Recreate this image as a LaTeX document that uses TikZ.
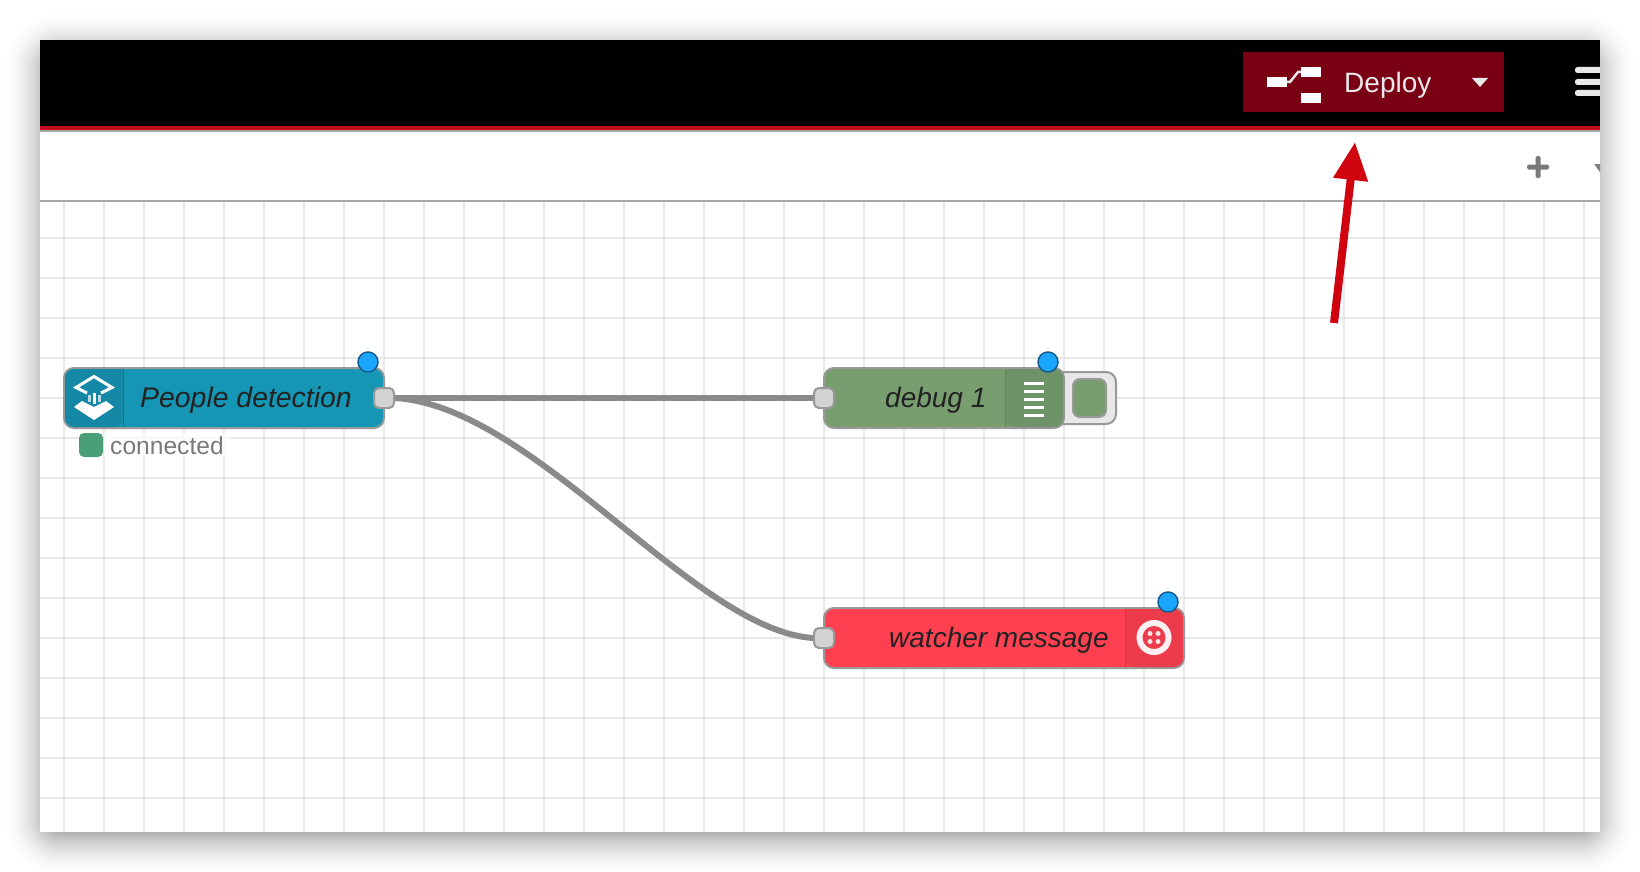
\documentclass[tikz,border=0pt]{standalone}
\usepackage{fontspec}
\setmainfont{Liberation Sans}
\usetikzlibrary{arrows.meta}
\definecolor{peopleBlue}{HTML}{1596B5}
\definecolor{peopleDark}{HTML}{1488A5}
\definecolor{debugGreen}{HTML}{789E70}
\definecolor{debugDark}{HTML}{6F9368}
\definecolor{watcherRed}{HTML}{FF4050}
\definecolor{watcherDark}{HTML}{EC3C4C}
\definecolor{deployRed}{HTML}{7A0014}
\definecolor{barRed}{HTML}{C90A1A}
\definecolor{arrowRed}{HTML}{D0040F}
\definecolor{gridGray}{HTML}{E8E8E8}
\definecolor{edgeGray}{HTML}{A8A8A8}
\definecolor{wireGray}{HTML}{8A8A8A}
\definecolor{boxGray}{HTML}{999999}
\definecolor{textDark}{HTML}{222222}
\definecolor{menuLight}{HTML}{E8E8E8}
\definecolor{dotBlue}{HTML}{1AA5FF}
\definecolor{dotEdge}{HTML}{175A8C}
\definecolor{statusGreen}{HTML}{4A9E78}
\begin{document}
\begin{tikzpicture}[
            x = 1pt, y = -1pt,
            gridline/.style={gridGray, line width = 2pt},
            nodebox/.style={draw=boxGray, line width = 2pt, rounded corners = 10pt, inner sep = 0pt},
            port/.style={draw=boxGray, fill=gray!35, line width = 2pt, rounded corners = 5pt, minimum size = 20pt, inner sep = 0pt},
            changed/.style={circle, draw=dotEdge, fill=dotBlue, line width = 1.5pt, minimum size = 20pt, inner sep = 0pt},
            title/.style={text=textDark, font=\fontsize{28}{30}\selectfont\itshape, anchor=base west, inner sep = 0pt},
            wire/.style={wireGray, line width = 6pt},
            whiteline/.style={white, line width = 3pt},
            ]
        
        \useasboundingbox (0, 0) rectangle (1640, 872);
        \fill[white] (0, 0) rectangle (1640, 872);
        \foreach \k in {1,...,80} {
            \pgfmathsetmacro{\spread}{48*(1-sqrt(\k/80))-8}
            \fill[black, opacity=.004, rounded corners=\spread+20] (40-\spread, 48-\spread) rectangle (1600+\spread, 840+\spread);
        }
        
        \fill[white] (40, 40) rectangle (1600, 832);
        \begin{scope}
            \clip (40, 40) rectangle (1600, 832);
            \foreach \x in {64,104,...,1584} \draw[gridline] (\x, 202) -- (\x, 832);
            \foreach \y in {238,278,...,798} \draw[gridline] (40, \y) -- (1600, \y);
            \fill[black] (40, 40) rectangle (1600, 126);
            \fill[barRed] (40, 126) rectangle (1600, 130);
            \fill[edgeGray] (40, 130) rectangle (1600, 132);
            \fill[edgeGray] (40, 200) rectangle (1600, 202);
            
            \fill[menuLight, rounded corners=2.5pt] (1575, 67) rectangle (1610, 73);
            \fill[menuLight, rounded corners=2.5pt] (1575, 79) rectangle (1610, 85);
            \fill[menuLight, rounded corners=2.5pt] (1575, 90) rectangle (1610, 96);
            \fill[gray] (1594, 164) -- (1606, 164) -- (1600, 172) -- cycle;
        \end{scope}
        
        \node[fill=deployRed, minimum width=261pt, minimum height=60pt, inner sep=0pt] (deploy) at (1373.5, 82) {};
        \fill[white] (1267, 77) rectangle (1287, 87);
        \fill[white] (1301, 67) rectangle (1321, 77);
        \fill[white] (1301, 93) rectangle (1321, 103);
        \draw[menuLight, line width=2.5pt] (1287, 82) -- (1290, 82) -- (1298, 72) -- (1301, 72);
        \node[text=menuLight, font=\fontsize{28}{30}\selectfont, anchor=base west, inner sep=0pt] (deployLabel) at (1344, 93) {Deploy};
        \fill[menuLight] (1472, 78) -- (1488, 78) -- (1480, 87) -- cycle;
        \fill[gray!95!black, rounded corners=1.5pt] (1527, 164.5) rectangle (1549, 169.5);
        \fill[gray!95!black, rounded corners=1.5pt] (1535.5, 156) rectangle (1540.5, 178);
        
        \node[nodebox, fill=menuLight, minimum width=76pt, minimum height=52pt] (debugButton) at (1078, 398) {};
        \node[draw=boxGray, fill=debugGreen, line width=2pt, rounded corners=7pt, minimum width=33pt, minimum height=38pt, inner sep=0pt] (debugToggle) at (1089.5, 398) {};
        
        \node[nodebox, fill=peopleBlue, minimum width=320pt, minimum height=60pt] (people) at (224, 398) {};
        \node[nodebox, fill=debugGreen, minimum width=240pt, minimum height=60pt] (debug) at (944, 398) {};
        \node[nodebox, fill=watcherRed, minimum width=360pt, minimum height=60pt] (watcher) at (1004, 638) {};
        
        \fill[peopleDark, rounded corners=9pt] (123, 369) -- (65, 369) -- (65, 427) -- (123, 427) [sharp corners] -- cycle;
        \fill[debugDark, rounded corners=9pt] (1005, 369) -- (1063, 369) -- (1063, 427) -- (1005, 427) [sharp corners] -- cycle;
        \fill[watcherDark, rounded corners=9pt] (1125, 609) -- (1183, 609) -- (1183, 667) -- (1125, 667) [sharp corners] -- cycle;
        \draw[peopleDark!85!black] (123.5, 369) -- (123.5, 427);
        \draw[debugDark!90!black] (1005, 369) -- (1005, 427);
        \draw[watcherDark!90!black] (1125, 609) -- (1125, 667);
        
        \draw[white, line width=3pt] (87, 393) -- (76, 387.5) -- (94, 376.5) -- (112, 387.5) -- (101, 393);
        \fill[white] (74, 407) -- (82, 401) -- (94, 407) -- (106, 401) -- (114, 407) -- (94, 420) -- cycle;
        \fill[white, opacity=.7] (87.5, 395) rectangle (90.5, 402);
        \fill[white] (92.5, 393) rectangle (95.5, 404);
        \fill[white, opacity=.7] (97.5, 395) rectangle (100.5, 402);
        
        \foreach \y in {383,391,399,407,415} \draw[whiteline] (1024, \y) -- (1044, \y);
        
        \draw[white!92!watcherDark, line width=6pt] (1154, 637.5) circle (14.5);
        \foreach \dx/\dy in {-4/-4,4/-4,-4/4,4/4} \fill[white!85!watcherDark] (1154+\dx, 637.5+\dy) circle (2.5);
        
        \node[title, font=\fontsize{28.4}{30}\selectfont\itshape] (peopleLabel) at (140, 407) {People detection};
        \node[title] (debugLabel) at (885, 407) {debug 1};
        \node[title] (watcherLabel) at (889, 647) {watcher message};
        
        \node[port] (peopleOut) at (384, 398) {};
        \node[port] (debugIn) at (824, 398) {};
        \node[port] (watcherIn) at (824, 638) {};
        
        \draw[wire] (peopleOut.east) -- (debugIn.west);
        \draw[wire] (peopleOut.east) .. controls (534, 406) and (694, 630) .. (watcherIn.west);
        
        \node[changed] (peopleDot) at (368, 362) {};
        \node[changed] (debugDot) at (1048, 362) {};
        \node[changed] (watcherDot) at (1168, 602) {};
        
        \node[fill=white, fill opacity=.75, text opacity=1, text=gray!95!black, font=\fontsize{24.6}{26}\selectfont, anchor=base west, inner xsep=6pt, inner ysep=3pt] (status) at (104, 454) {connected};
        \node[fill=statusGreen, rounded corners=5pt, minimum size=24pt, inner sep=0pt] (statusDot) at (91, 445) {};
        
        \coordinate (arrowTail) at (1334, 323);
        \coordinate (arrowTip) at (1355, 142);
        \draw[-{Triangle[length=38pt, width=33pt]}, arrowRed, line width=8pt] (arrowTail) -- (arrowTip);
    \end{tikzpicture}
\end{document}
